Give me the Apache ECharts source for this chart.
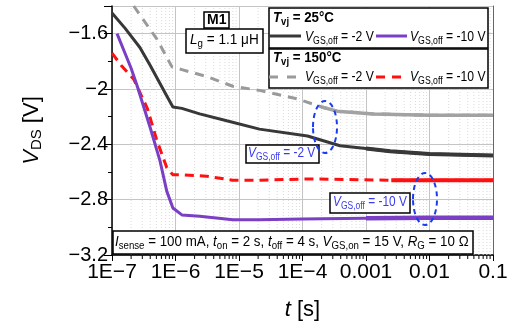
<!DOCTYPE html>
<html>
<head>
<meta charset="utf-8">
<script src="https://cdn.jsdelivr.net/npm/echarts@6/dist/echarts.min.js"></script>
<style>
  html, body { margin: 0; padding: 0; background: #fff; }
  #chart { width: 512px; height: 327px; }
</style>
</head>
<body>
<div id="chart"></div>
<script>
// Tvj = 25 °C, VGS,off = -2 V (black solid)
const tBlack = [1e-7, 1.6e-7, 2.75e-7, 4e-7, 5.7e-7, 7.3e-7, 9.1e-7, 1.26e-6, 2.4e-6, 6.4e-6, 2.1e-5, 1.2e-4, 3.9e-4, 1e-3, 2.4e-3, 1e-2, 0.1];
const vBlack = [-1.45, -1.56, -1.70, -1.83, -1.96, -2.05, -2.13, -2.14, -2.18, -2.23, -2.29, -2.34, -2.41, -2.43, -2.45, -2.47, -2.48];
// Tvj = 25 °C, VGS,off = -10 V (purple solid)
const tPurple = [1.2e-7, 2e-7, 2.5e-7, 4e-7, 5.7e-7, 7.3e-7, 9.1e-7, 1.26e-6, 2.4e-6, 8e-6, 2.1e-5, 1e-4, 1e-3, 1e-2, 0.1];
const vPurple = [-1.60, -1.85, -1.98, -2.28, -2.52, -2.74, -2.86, -2.91, -2.92, -2.945, -2.945, -2.94, -2.935, -2.93, -2.93];
// Tvj = 150 °C, VGS,off = -2 V (grey dashed)
const tGrey = [2.2e-7, 5.1e-7, 8.8e-7, 1.26e-6, 3.1e-6, 8e-6, 2.1e-5, 8.1e-5, 2e-4, 3.5e-4, 1.3e-3, 1e-2, 0.1];
const vGrey = [-1.40, -1.64, -1.84, -1.86, -1.91, -1.98, -2.01, -2.07, -2.13, -2.16, -2.18, -2.19, -2.19];
// Tvj = 150 °C, VGS,off = -10 V (red dashed)
const tRed = [1e-7, 1.4e-7, 2.2e-7, 3.6e-7, 5e-7, 7.3e-7, 9.1e-7, 1.26e-6, 3.1e-6, 8e-6, 2.1e-5, 1.2e-4, 2.5e-3, 1e-2, 0.1];
const vRed = [-1.74, -1.83, -1.93, -2.14, -2.36, -2.57, -2.62, -2.62, -2.63, -2.66, -2.66, -2.65, -2.66, -2.66, -2.66];

const decades = [-7, -6, -5, -4, -3, -2];
const minorX = [];
decades.forEach((d) => {
  for (let k = 2; k <= 9; k++) minorX.push(Number((k * Math.pow(10, d)).toPrecision(2)));
});

const FONT = 'Liberation Sans, Arial, sans-serif';
const pair = (ts, vs) => ts.map((t, i) => [t, vs[i]]);
// the measured traces get noisy (thick) at long times: from this t on they are drawn solid
const noisyFrom = (ts, vs, t0) => pair(ts, vs).filter((p) => p[0] >= t0);

const subRich = (size, fill, bold) => ({
  n: { fontSize: size, fill, fontFamily: FONT, fontWeight: bold ? 'bold' : 'normal' },
  i: { fontSize: size, fill, fontFamily: FONT, fontStyle: 'italic', fontWeight: bold ? 'bold' : 'normal' },
  s: { fontSize: size - 4, fill, fontFamily: FONT, fontWeight: bold ? 'bold' : 'normal', padding: [8, 0, 0, 0] },
});

// text is a little condensed in the original figure -> scaleX
const txt = (x, y, text, size, fill, bold, sx) => ({
  type: 'text', x, y, z: 20, scaleX: sx || 1,
  style: { text, rich: subRich(size, fill, bold), fill, font: size + 'px ' + FONT, verticalAlign: 'middle' },
});
const box = (x, y, w, h) => ({
  type: 'rect', z: 10, shape: { x, y, width: w, height: h },
  style: { fill: '#fff', stroke: '#000', lineWidth: 1.5 },
});
const seg = (x1, x2, y, color, dash) => ({
  type: 'line', z: 20, shape: { x1, y1: y, x2, y2: y },
  style: { stroke: color, lineWidth: 3, lineDash: dash || null },
});
const ring = (cx, cy) => ({
  type: 'ellipse', z: 20, shape: { cx, cy, rx: 12, ry: 26 },
  style: { fill: null, stroke: '#1a3cf0', lineWidth: 2, lineDash: [5, 4] },
});

const vgs = (v) => '{i|V}{s|GS,off}{n| = ' + v + ' V}';
const BLUE = '#3a3af0';
const C_BLACK = '#383838';
const C_PURPLE = '#7b3fc6';
const C_GREY = '#9a9a9a';
const C_RED = '#ff1010';
const SX = 0.87;

const chart = echarts.init(document.getElementById('chart'));
chart.setOption({
  animation: false,
  grid: { left: 112, right: 19, top: 6, bottom: 72 },
  xAxis: {
    type: 'log', logBase: 10, min: 1e-7, max: 0.1, splitNumber: 6,
    name: '{i|t} [s]', nameLocation: 'middle', nameGap: 44,
    nameTextStyle: {
      fontSize: 22, fontFamily: FONT, color: '#000',
      rich: { i: { fontSize: 22, fontFamily: FONT, fontStyle: 'italic', color: '#000' } },
    },
    axisLine: { lineStyle: { color: '#000', width: 1.5 } },
    axisTick: { inside: false, length: 6, lineStyle: { color: '#000' } },
    axisLabel: {
      fontSize: 21, fontFamily: FONT, color: '#000', margin: 7,
      formatter: (v) => {
        const e = Math.round(Math.log10(v));
        return e <= -4 ? '1E\u2212' + (-e) : String(Number('1e' + e));
      },
    },
    splitLine: { show: true, lineStyle: { color: '#c4c4c4', width: 1 } },
  },
  yAxis: [
    {
      type: 'value', min: -3.2, max: -1.4, interval: 0.4,
      name: '{i|V}{s|DS} [V]', nameLocation: 'middle', nameGap: 68, nameRotate: 90,
      nameTextStyle: {
        fontSize: 22, fontFamily: FONT, color: '#000',
        rich: {
          i: { fontSize: 22, fontFamily: FONT, fontStyle: 'italic', color: '#000' },
          s: { fontSize: 15, fontFamily: FONT, color: '#000', padding: [10, 0, 0, 0] },
        },
      },
      axisLine: { show: true, lineStyle: { color: '#000', width: 1.5 } },
      axisTick: { show: true, length: 8, lineStyle: { color: '#000' } },
      minorTick: { show: true, splitNumber: 2, length: 4, lineStyle: { color: '#000' } },
      axisLabel: {
        fontSize: 20, fontFamily: FONT, color: '#000', margin: 4, showMaxLabel: false,
        formatter: (v) => '\u2212' + Math.abs(Math.round(v * 10) / 10),
      },
      splitLine: { show: true, lineStyle: { color: '#c4c4c4', width: 1 } },
    },
    {
      type: 'value', min: -3.2, max: -1.4, position: 'right',
      axisLine: { show: true, lineStyle: { color: '#666', width: 1 } },
      axisTick: { show: false }, axisLabel: { show: false }, splitLine: { show: false },
    },
  ],
  series: [
    {
      // minor decade grid lines (2..9) and their small ticks on the t axis
      type: 'custom', silent: true, z: 1, clip: false,
      data: minorX.map((v) => [v, -3.2]),
      encode: { x: 0, y: 1 },
      renderItem: (params, api) => {
        const bot = api.coord([api.value(0), -3.2]);
        const top = api.coord([api.value(0), -1.4]);
        return {
          type: 'group',
          children: [
            { type: 'line', shape: { x1: bot[0], y1: bot[1], x2: top[0], y2: top[1] }, style: { stroke: '#dadada', lineWidth: 1, lineDash: [1, 2] } },
            { type: 'line', shape: { x1: bot[0], y1: bot[1], x2: bot[0], y2: bot[1] + 4 }, style: { stroke: '#000', lineWidth: 1 } },
          ],
        };
      },
    },
    {
      name: 'grey', type: 'line', data: pair(tGrey, vGrey), symbol: 'none', z: 3,
      lineStyle: { color: C_GREY, width: 3, type: [9, 7] },
    },
    {
      type: 'line', data: noisyFrom(tGrey, vGrey, 2e-4), symbol: 'none', z: 3,
      lineStyle: { color: '#a2a2a2', width: 3.5 },
    },
    {
      name: 'black', type: 'line', data: pair(tBlack, vBlack), symbol: 'none', z: 3,
      lineStyle: { color: C_BLACK, width: 3 },
    },
    {
      type: 'line', data: noisyFrom(tBlack, vBlack, 1e-3), symbol: 'none', z: 3,
      lineStyle: { color: C_BLACK, width: 4 },
    },
    {
      name: 'red', type: 'line', data: pair(tRed, vRed), symbol: 'none', z: 3,
      lineStyle: { color: C_RED, width: 3, type: [9, 6] },
    },
    {
      type: 'line', data: noisyFrom(tRed, vRed, 2.5e-3), symbol: 'none', z: 3,
      lineStyle: { color: C_RED, width: 4 },
    },
    {
      name: 'purple', type: 'line', data: pair(tPurple, vPurple), symbol: 'none', z: 3,
      lineStyle: { color: C_PURPLE, width: 3 },
    },
    {
      type: 'line', data: noisyFrom(tPurple, vPurple, 1e-3), symbol: 'none', z: 3,
      lineStyle: { color: C_PURPLE, width: 4.5 },
    },
  ],
  graphic: [
    // M1 and Lg labels
    box(204, 12, 25, 16),
    txt(207, 20.5, '{n|M1}', 14, '#000', true),
    box(186, 29, 77, 24),
    txt(190, 40, '{i|L}{s|g}{n| = 1.1 \u03bcH}', 14, '#000', false, 0.97),
    // legend 25 C
    box(269, 8, 219, 40),
    txt(273, 18, '{i|T}{s|vj}{n| = 25\u00b0C}', 14, '#000', true, 0.95),
    seg(269, 301, 36, C_BLACK),
    txt(305, 37, vgs('-2'), 14, '#000', false, SX),
    seg(376, 407, 36, C_PURPLE),
    txt(410, 37, vgs('-10'), 14, '#000', false, SX),
    // legend 150 C
    box(269, 49, 219, 39),
    txt(273, 58, '{i|T}{s|vj}{n| = 150\u00b0C}', 14, '#000', true, 0.95),
    seg(269, 301, 77, C_GREY, [9, 9]),
    txt(305, 77, vgs('-2'), 14, '#000', false, SX),
    seg(376, 401, 77, C_RED, [9, 7]),
    txt(410, 77, vgs('-10'), 14, '#000', false, SX),
    // annotations
    box(246, 145, 73, 18),
    txt(248, 153, vgs('-2'), 14, BLUE, false, 0.85),
    ring(325, 127),
    box(330, 193, 80, 20),
    txt(333, 202, vgs('-10'), 14, BLUE, false, 0.85),
    ring(425, 199),
    // conditions
    box(113, 231, 360, 23),
    txt(115, 242, '{i|I}{s|sense}{n| = 100 mA, }{i|t}{s|on}{n| = 2 s, }{i|t}{s|off}{n| = 4 s, }{i|V}{s|GS,on}{n| = 15 V, }{i|R}{s|G}{n| = 10 \u03a9}', 14.5, '#000', false, 0.92),
  ],
});
</script>
</body>
</html>
